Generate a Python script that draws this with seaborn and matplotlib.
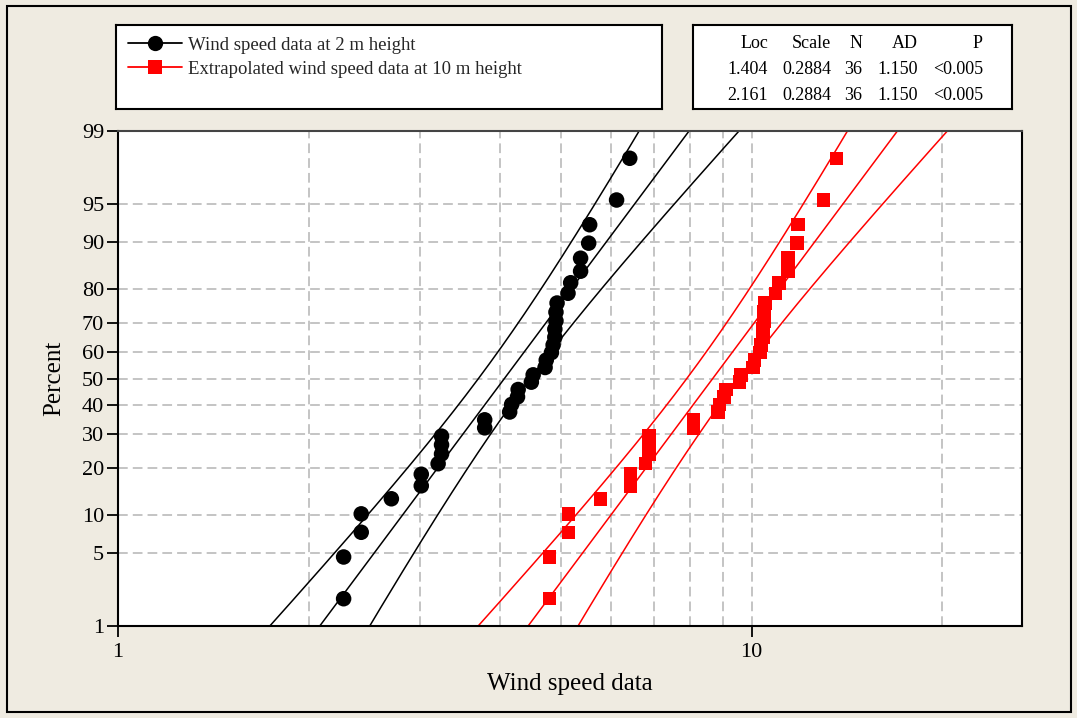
import numpy as np
import pandas as pd
import matplotlib
matplotlib.use("Agg")
import matplotlib.pyplot as plt
import seaborn as sns
from statistics import NormalDist
from matplotlib.lines import Line2D
from matplotlib.patches import Rectangle
from matplotlib.ticker import NullLocator, FixedLocator

# ---------------- data ----------------
speed_2m = [2.27, 2.27, 2.42, 2.42, 2.70, 3.01, 3.01, 3.20, 3.24, 3.24, 3.24, 3.79,
            3.79, 4.15, 4.18, 4.27, 4.28, 4.49, 4.52, 4.72, 4.74, 4.83, 4.86, 4.89,
            4.89, 4.91, 4.91, 4.93, 5.13, 5.18, 5.37, 5.37, 5.53, 5.55, 6.12, 6.42]
speed_10m = [4.80, 4.80, 5.14, 5.14, 5.77, 6.44, 6.44, 6.80, 6.88, 6.88, 6.88, 8.10,
             8.10, 8.85, 8.90, 9.05, 9.10, 9.57, 9.62, 10.05, 10.10, 10.30, 10.35, 10.42,
             10.42, 10.45, 10.45, 10.50, 10.90, 11.05, 11.42, 11.42, 11.79, 11.82, 12.98, 13.60]
series_names = ["Wind speed data at 2 m height",
                "Extrapolated wind speed data at 10 m height"]
fit_loc = [1.404, 2.161]
fit_scale = [0.2884, 0.2884]
fit_n = [36, 36]
fit_ad = ["1.150", "1.150"]
fit_p = ["<0.005", "<0.005"]
table_header = ["Loc", "Scale", "N", "AD", "P"]
percent_ticks = [1, 5, 10, 20, 30, 40, 50, 60, 70, 80, 90, 95, 99]
x_ticks = [1, 10]
x_grid = [2, 3, 4, 5, 6, 7, 8, 9, 10, 20]

# ---------------- style ----------------
W, H = 1077, 718
BG = "#EFEBE1"
colors = ["black", "#FF0000"]
markers = ["o", "s"]
msizes = [125, 95]

sns.set_theme(style="white")
plt.rcParams['font.family'] = ['Liberation Serif', 'DejaVu Serif']
plt.rcParams['axes.unicode_minus'] = False

nd = NormalDist()
ppf = np.vectorize(lambda p: nd.inv_cdf(p))

fig = plt.figure(figsize=(W / 100, H / 100), dpi=100, facecolor=BG)
ax = fig.add_axes([118 / W, 1 - 626 / H, (1022 - 118) / W, (626 - 131) / H])
ax.set_facecolor("white")

# grid
grid_kw = dict(color="#C4C4C4", lw=1.4, ls=(0, (5, 2.6)), zorder=0)
for p in percent_ticks[1:-1]:
    ax.axhline(nd.inv_cdf(p / 100), **grid_kw)
for g in x_grid:
    ax.axvline(g, **grid_kw)

# fitted lognormal lines with 95% confidence bands
zline = np.linspace(-3.0, 3.0, 400)
for k in range(2):
    mu, s, n = fit_loc[k], fit_scale[k], fit_n[k]
    se = np.sqrt(s ** 2 / n + zline ** 2 * s ** 2 / (2 * n))
    for off in (-1.96, 0.0, 1.96):
        xv = np.exp(mu + s * zline + off * se)
        sns.lineplot(x=xv, y=zline, ax=ax, color=colors[k], lw=1.1,
                     sort=False, estimator=None, legend=False, zorder=2)

# data points at median-rank plotting positions
for k, vals in enumerate([speed_2m, speed_10m]):
    v = np.sort(np.asarray(vals))
    n = len(v)
    ranks = np.arange(1, n + 1)
    pp = (ranks - 0.3) / (n + 0.4)
    df = pd.DataFrame({"speed": v, "z": ppf(pp)})
    sns.scatterplot(data=df, x="speed", y="z", ax=ax, color=colors[k],
                    marker=markers[k], s=msizes[k], edgecolor="none",
                    linewidth=0, zorder=3, legend=False)

ax.set_xscale("log")
ax.set_xlim(1, 26.7)
ax.set_ylim(nd.inv_cdf(0.01), nd.inv_cdf(0.99))
ax.xaxis.set_major_locator(FixedLocator(x_ticks))
ax.xaxis.set_minor_locator(NullLocator())
ax.set_xticklabels([str(t) for t in x_ticks])
ax.set_yticks([nd.inv_cdf(p / 100) for p in percent_ticks])
ax.set_yticklabels([str(p) for p in percent_ticks])
ax.tick_params(axis="both", which="major", direction="out", length=8, width=1.3,
               colors="black", labelsize=16, bottom=True, left=True)
ax.tick_params(axis="x", pad=4)
ax.tick_params(axis="y", pad=2)
for sp in ax.spines.values():
    sp.set_color("black")
    sp.set_linewidth(1.5)
ax.spines["top"].set_color("#444444")
ax.set_xlabel("Wind speed data", fontsize=18, labelpad=8, color="black")
ax.set_ylabel("Percent", fontsize=18, labelpad=12, color="black")
ax.grid(False)

# legend box
lax = fig.add_axes([116 / W, 1 - 109 / H, (662 - 116) / W, (109 - 25) / H])
lax.set_facecolor("white")
lax.set_xticks([]); lax.set_yticks([])
for sp in lax.spines.values():
    sp.set_color("black"); sp.set_linewidth(1.5)
handles = [Line2D([0], [0], color=colors[k], lw=1.3, marker=markers[k],
                  markersize=11 if k == 0 else 10, markeredgewidth=0)
           for k in range(2)]
lax.legend(handles, series_names, loc="upper left", frameon=False,
           fontsize=13.5, handlelength=2.9, handletextpad=0.3,
           labelspacing=0.36, borderaxespad=0.0,
           bbox_to_anchor=(0.0, 1.0), borderpad=0.62)

# statistics table box
tax = fig.add_axes([693 / W, 1 - 109 / H, (1012 - 693) / W, (109 - 25) / H])
tax.set_facecolor("white")
tax.set_xticks([]); tax.set_yticks([])
tax.set_xlim(693, 1012); tax.set_ylim(109, 25)
for sp in tax.spines.values():
    sp.set_color("black"); sp.set_linewidth(1.5)
col_right = [768, 831, 862, 918, 983]
row_y = [44, 69, 96]
rows = [table_header] + [[f"{fit_loc[k]:.3f}", f"{fit_scale[k]:.4f}", str(fit_n[k]),
                          fit_ad[k], fit_p[k]] for k in range(2)]
for r, row in enumerate(rows):
    for c, txt in enumerate(row):
        tax.text(col_right[c], row_y[r], txt, ha="right", va="center",
                 fontsize=13, color="black")

# outer frame
fig.patches.append(Rectangle((7 / W, 1 - 712 / H), (1071 - 7) / W, (712 - 6) / H,
                             transform=fig.transFigure, fill=False,
                             ec="black", lw=1.5))

fig.savefig("out.png", dpi=100, facecolor=BG)
